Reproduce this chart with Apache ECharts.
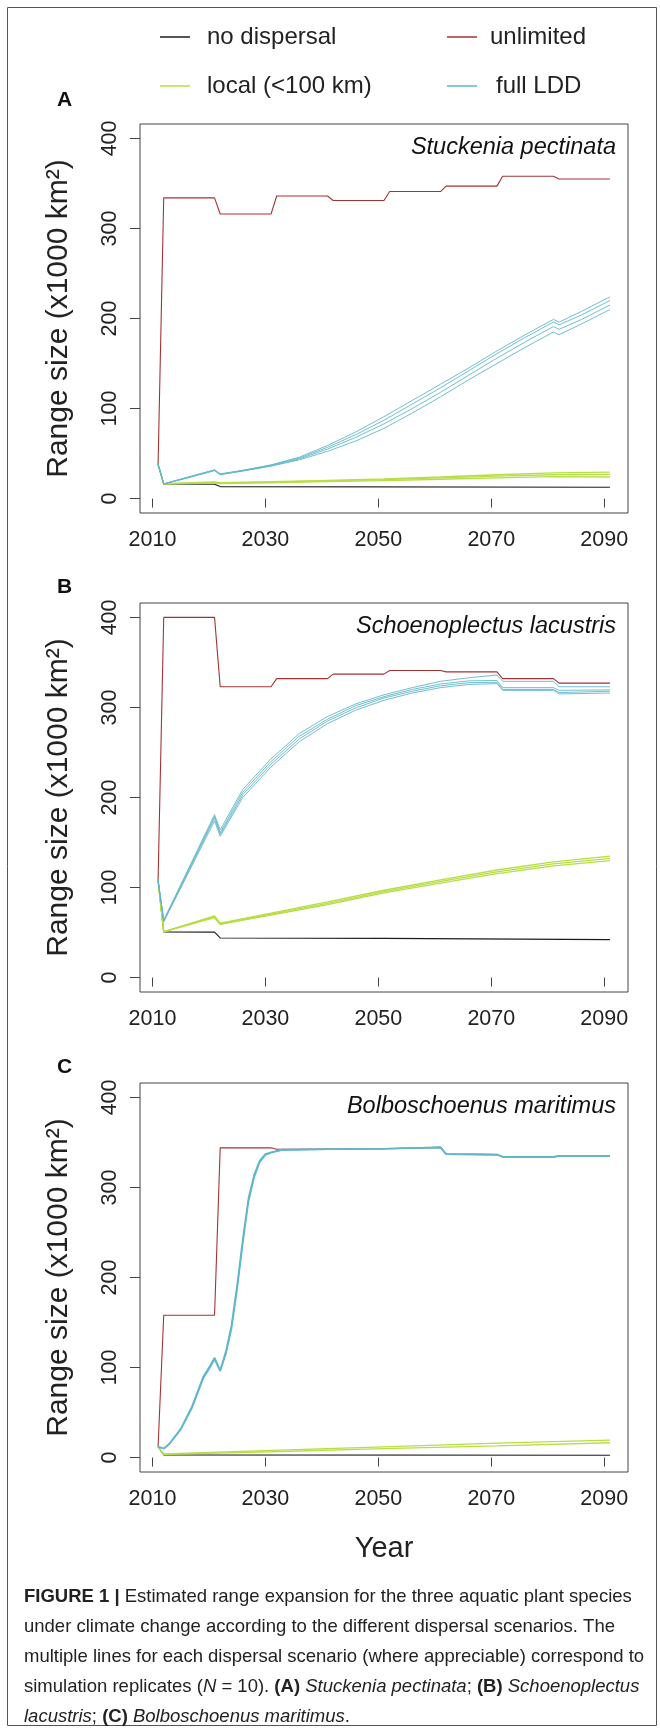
<!DOCTYPE html>
<html><head><meta charset="utf-8">
<script src="https://cdn.jsdelivr.net/npm/echarts@6.0.0/dist/echarts.min.js"></script>
<style>html,body{margin:0;padding:0;background:#fff}#c{width:660px;height:1731px}</style>
</head><body><div id="c"></div>
<script>
// ---------- tick labels ----------
const xTicks = [2010, 2030, 2050, 2070, 2090];
const yTicks = [0, 100, 200, 300, 400];
const scenarioNames = ['no dispersal', 'unlimited', 'local (<100 km)', 'full LDD'];
const speciesNames = ['Stuckenia pectinata', 'Schoenoplectus lacustris', 'Bolboschoenus maritimus'];
const panelLetters = ['A', 'B', 'C'];

// ---------- Panel A: Stuckenia pectinata ----------
const noDispYearsA = [2011, 2012, 2021, 2022, 2091];
const noDispA = [38, 16.3, 16, 13.3, 12.6];
const unlimYearsA = [2011, 2012, 2021, 2022, 2031, 2032, 2041, 2042, 2051, 2052, 2061, 2062, 2071, 2072, 2081, 2082, 2091];
const unlimA = [38, 334, 334, 316, 316, 336, 336, 331, 331, 341, 341, 347, 347, 358, 358, 355, 355];
const localYearsA = [2011, 2012, 2021, 2022, 2031, 2041, 2051, 2061, 2071, 2081, 2091];
const localA1 = [38, 16.5, 18.5, 17.6, 18.8, 20.3, 22, 24, 26.5, 28.5, 29.5];
const localA2 = [38, 16.4, 18, 17.1, 18.2, 19.6, 21, 23, 25, 26.5, 27];
const localA3 = [38, 16.3, 17.5, 16.6, 17.5, 18.8, 20, 21.5, 23, 24.5, 24];
const lddYearsA = [2011, 2012, 2016, 2021, 2022, 2026, 2031, 2036, 2041, 2046, 2051, 2056, 2061, 2066, 2071, 2076, 2081, 2082, 2086, 2091];
const lddA1 = [38, 16.3, 23.5, 32, 27.5, 31.5, 37.5, 46, 59, 74, 91, 109, 127, 145, 164, 182, 199, 196, 208, 224];
const lddA2 = [38, 16.3, 23, 31.5, 27, 31, 37, 45, 57, 71, 87, 105, 123, 142, 161, 179, 196, 193, 204, 220];
const lddA3 = [38, 16.3, 23, 31.5, 27, 31, 36.5, 44, 55, 68, 83, 100, 118, 137, 156, 174, 191, 188, 199, 215];
const lddA4 = [38, 16.3, 22.5, 31, 26.5, 30.5, 36, 43, 52.5, 64, 78, 95, 113, 132, 150, 168, 185, 182, 194, 210];

// ---------- Panel B: Schoenoplectus lacustris ----------
const noDispYearsB = [2011, 2012, 2021, 2022, 2051, 2091];
const noDispB = [108, 50.7, 50.5, 44, 43.5, 42.2];
const unlimYearsB = [2011, 2012, 2021, 2022, 2031, 2032, 2041, 2042, 2051, 2052, 2061, 2062, 2071, 2072, 2081, 2082, 2091];
const unlimB = [108, 400, 400, 323, 323, 332, 332, 337, 337, 341, 341, 339.5, 339.5, 332, 332, 327, 327];
const localYearsB = [2011, 2012, 2021, 2022, 2031, 2041, 2051, 2061, 2071, 2081, 2091];
const localB1 = [108, 51, 68.5, 60.5, 71.5, 84, 97, 108.5, 119.5, 128.5, 135];
const localB2 = [108, 50.8, 67.5, 59.8, 70.5, 82.5, 95.5, 106.8, 117.5, 126.2, 132.5];
const localB3 = [108, 50.7, 66.5, 59, 69.5, 81, 94, 105, 115.5, 124, 130];
const lddYearsB = [2011, 2012, 2021, 2022, 2026, 2031, 2036, 2041, 2046, 2051, 2056, 2061, 2066, 2071, 2072, 2081, 2082, 2091];
const lddB1 = [108, 64, 181, 164, 209, 243, 271, 290, 304, 314, 322, 329, 333, 336, 329, 329, 323, 323];
const lddB2 = [108, 63, 179, 161, 206, 240, 268, 287, 302, 312, 320, 326, 329.5, 330, 322, 322, 319, 319.5];
const lddB3 = [108, 62.5, 177, 159, 203, 237, 265, 285, 299.5, 310.5, 318, 324, 327.5, 328, 320, 320, 316.5, 318];
const lddB4 = [108, 62, 174, 157, 200, 234, 262, 282, 297, 308, 316, 322, 325.5, 326.5, 319, 319, 315, 316];

// ---------- Panel C: Bolboschoenus maritimus ----------
const noDispYearsC = [2011, 2012, 2091];
const noDispC = [12, 3, 2.6];
const unlimYearsC = [2011, 2012, 2021, 2022, 2031, 2032, 2051, 2061, 2062, 2071, 2072, 2081, 2082, 2091];
const unlimC = [12, 158, 158, 344, 344, 342.5, 343, 344.5, 337, 336.5, 334, 334, 335, 335];
const localYearsC = [2011, 2012, 2031, 2051, 2071, 2091];
const localC1 = [12, 4, 8, 12, 16, 19.5];
const localC2 = [12, 3.5, 6.5, 10, 13, 16.5];
const lddYearsC = [2011, 2012, 2013, 2015, 2017, 2019, 2020, 2021, 2022, 2023, 2024, 2025, 2026, 2027, 2028, 2029, 2030, 2031, 2033, 2041, 2051, 2061, 2062, 2071, 2072, 2081, 2082, 2091];
const lddC1 = [12, 10, 15.5, 32, 57, 90, 100, 111, 97, 118, 147, 192, 243, 288, 314, 330, 337, 339, 342, 342.5, 343, 344.5, 337, 336.5, 334, 334, 335, 335];
const lddC2 = [12, 10, 15, 31, 55, 88, 98, 109, 96, 115, 143, 187, 238, 284, 311, 328, 336, 338.5, 341.5, 342.5, 343, 344.5, 337, 336.5, 334, 334, 335, 335];

// ---------- styling ----------
const F = '"Liberation Sans", Arial, Helvetica, sans-serif';
const C_BLACK = '#1c1c1c', C_RED = '#a33234', C_GREEN = '#b7de46', C_BLUE = '#61b7ca';
const gridTops = [124, 603, 1083];

const panels = [
  {nd: [noDispYearsA, noDispA], un: [unlimYearsA, unlimA], lo: [localYearsA, [localA1, localA2, localA3]], ldd: [lddYearsA, [lddA1, lddA2, lddA3, lddA4]]},
  {nd: [noDispYearsB, noDispB], un: [unlimYearsB, unlimB], lo: [localYearsB, [localB1, localB2, localB3]], ldd: [lddYearsB, [lddB1, lddB2, lddB3, lddB4]]},
  {nd: [noDispYearsC, noDispC], un: [unlimYearsC, unlimC], lo: [localYearsC, [localC1, localC2]], ldd: [lddYearsC, [lddC1, lddC2]]}
];

function pts(years, vals) { return years.map((y, i) => [y, vals[i]]); }
function line(name, years, vals, gi, color, width) {
  return {type: 'line', name: name, xAxisIndex: gi, yAxisIndex: gi, data: pts(years, vals),
    showSymbol: false, symbol: 'none', color: color, lineStyle: {color: color, width: width}, silent: true, animation: false};
}

const series = [];
panels.forEach((p, gi) => {
  series.push(line(scenarioNames[1], p.un[0], p.un[1], gi, C_RED, 1.1));
  series.push(line(scenarioNames[0], p.nd[0], p.nd[1], gi, C_BLACK, 1.1));
  p.lo[1].forEach(v => series.push(line(scenarioNames[2], p.lo[0], v, gi, C_GREEN, 1.3)));
  p.ldd[1].forEach(v => series.push(line(scenarioNames[3], p.ldd[0], v, gi, C_BLUE, gi === 2 ? 1.6 : 0.9)));
});

const grids = gridTops.map(t => ({left: 140, top: t, width: 488, height: 389, show: true, borderColor: '#444', borderWidth: 1, backgroundColor: 'transparent'}));
const xAxes = gridTops.map((t, gi) => ({
  type: 'value', gridIndex: gi, min: 2007.8, max: 2094.2,
  axisLine: {show: false}, splitLine: {show: false},
  axisTick: {show: true, length: 9, customValues: xTicks, lineStyle: {color: '#444'}},
  axisLabel: {customValues: xTicks, fontSize: 21.5, color: '#222', margin: 16, fontFamily: F, formatter: v => String(v)},
  name: gi === 2 ? 'Year' : '', nameLocation: 'middle', nameGap: 62,
  nameTextStyle: {fontSize: 29, color: '#222', fontFamily: F}
}));
const yAxes = gridTops.map((t, gi) => ({
  type: 'value', gridIndex: gi, min: -16, max: 416,
  axisLine: {show: false}, splitLine: {show: false},
  axisTick: {show: true, length: 10, customValues: yTicks, lineStyle: {color: '#444'}},
  axisLabel: {customValues: yTicks, rotate: 90, fontSize: 21.5, color: '#222', margin: 19, fontFamily: F, formatter: v => String(v)},
  name: 'Range size (x1000 km\u00B2)', nameLocation: 'middle', nameRotate: 90, nameGap: 66,
  nameTextStyle: {fontSize: 30, color: '#222', fontFamily: F}
}));

const legendPos = [[160, 25], [447, 25], [160, 74], [447, 74]];
const legendPad = [12, 8, 12, 14];
const legends = scenarioNames.map((n, i) => ({
  data: [n], left: legendPos[i][0], top: legendPos[i][1], icon: 'rect', itemWidth: 30, itemHeight: 1.5,
  itemGap: 0, padding: 0, selectedMode: false,
  textStyle: {fontSize: 24, color: '#222', fontFamily: F, padding: [0, 0, 0, legendPad[i]]}
}));

const titles = [];
gridTops.forEach((t, gi) => {
  titles.push({text: panelLetters[gi], left: 57, top: gi === 0 ? t - 34 : t - 26, padding: 0,
    textStyle: {fontSize: 21, fontWeight: 'bold', color: '#111', fontFamily: F}});
  titles.push({text: speciesNames[gi], right: 44, top: t + 12, padding: 0,
    textStyle: {fontSize: 23.5, fontStyle: 'italic', fontWeight: 'normal', color: '#111', fontFamily: F}});
});

const captionText = [
  '{b|FIGURE 1 |} Estimated range expansion for the three aquatic plant species',
  'under climate change according to the different dispersal scenarios. The',
  'multiple lines for each dispersal scenario (where appreciable) correspond to',
  'simulation replicates ({i|N} = 10). {b|(A)} {i|Stuckenia pectinata}; {b|(B)} {i|Schoenoplectus}',
  '{i|lacustris}; {b|(C)} {i|Bolboschoenus maritimus}.'
].join('\n');
const capStyle = {fontSize: 18.5, fontFamily: F, fill: '#222', lineHeight: 30};

const chart = echarts.init(document.getElementById('c'), null, {renderer: 'canvas'});
chart.setOption({
  animation: false,
  backgroundColor: '#fff',
  title: titles,
  legend: legends,
  grid: grids,
  xAxis: xAxes,
  yAxis: yAxes,
  series: series,
  graphic: [
    {type: 'rect', shape: {x: 7.5, y: 7.5, width: 649, height: 1718}, style: {fill: 'none', stroke: '#555', lineWidth: 1}, silent: true},
    {type: 'text', left: 24, top: 1582, silent: true,
      style: Object.assign({text: captionText,
        rich: {b: Object.assign({fontWeight: 'bold'}, capStyle), i: Object.assign({fontStyle: 'italic'}, capStyle)}}, capStyle)}
  ]
});
</script>
</body></html>
